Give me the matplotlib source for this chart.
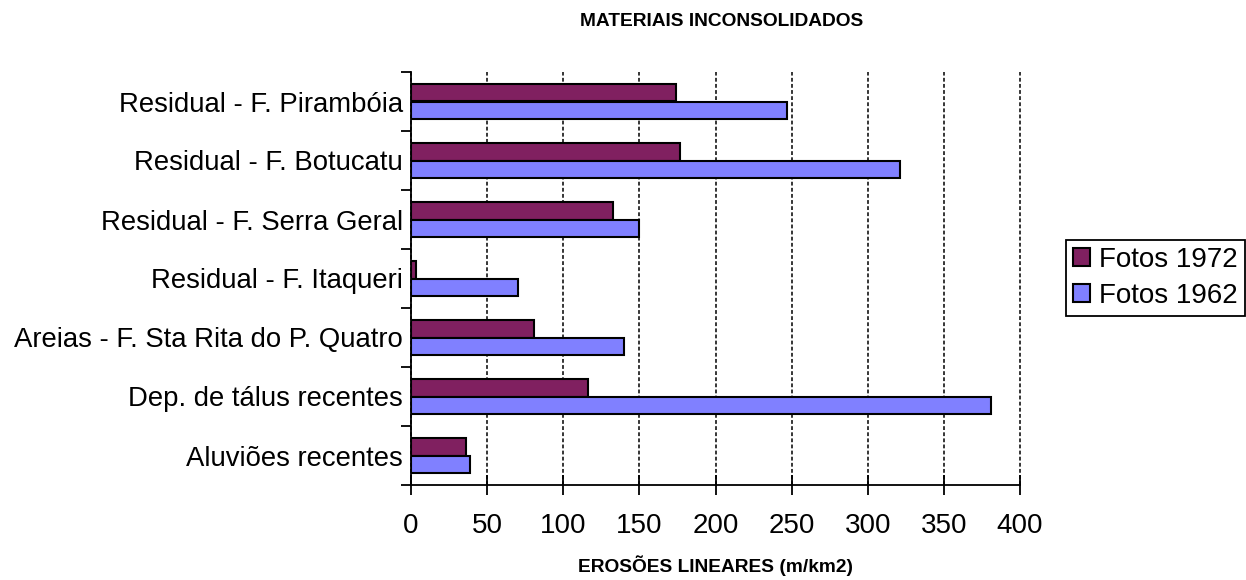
import matplotlib.pyplot as plt
import numpy as np

plt.rcParams['font.family'] = ['Liberation Sans', 'DejaVu Sans']

# erosion densities per unconsolidated material (m/km2)
categorias = ['Residual - F. Pirambóia',
              'Residual - F. Botucatu',
              'Residual - F. Serra Geral',
              'Residual - F. Itaqueri',
              'Areias - F. Sta Rita do P. Quatro',
              'Dep. de tálus recentes',
              'Aluviões recentes']
fotos_1972 = [174, 177, 133, 3, 81, 116, 36]
fotos_1962 = [247, 321, 150, 70, 140, 381, 39]
xticks = [0, 50, 100, 150, 200, 250, 300, 350, 400]

cor_1972 = '#802060'
cor_1962 = '#8080FF'

fig = plt.figure(figsize=(12.46, 5.8), dpi=100)
ax = fig.add_axes([411/1246, 1 - 485/580, 609/1246, 413/580])

y = np.arange(len(categorias))
h = 0.29
ax.barh(y - h/2, fotos_1972, height=h, color=cor_1972, edgecolor='black',
        linewidth=1.5, label='Fotos 1972', zorder=3)
ax.barh(y + h/2, fotos_1962, height=h, color=cor_1962, edgecolor='black',
        linewidth=1.5, label='Fotos 1962', zorder=3)

ax.set_xlim(0, 400)
ax.set_ylim(len(categorias) - 0.5, -0.5)

ax.set_xticks(xticks)
ax.set_xticklabels([str(v) for v in xticks], fontsize=20)
ax.tick_params(axis='x', direction='inout', length=14, width=1.3, pad=13)

ax.set_yticks(y)
ax.set_yticklabels(categorias, fontsize=19.8)
ax.set_yticks(np.arange(len(categorias) + 1) - 0.5, minor=True)
ax.tick_params(axis='y', which='major', length=0, pad=6)
ax.tick_params(axis='y', which='minor', direction='out', length=7, width=1.3)

ax.xaxis.grid(True, color='black', linestyle=(0, (2.5, 1.5)), linewidth=1.1, zorder=0)
ax.set_axisbelow(True)
for gl in ax.xaxis.get_gridlines():
    gl.set_clip_on(False)

for s in ['top', 'right']:
    ax.spines[s].set_visible(False)
for s in ['left', 'bottom']:
    ax.spines[s].set_linewidth(1.3)

ax.set_xlabel('EROSÕES LINEARES (m/km2)', fontsize=13.8, fontweight='bold', labelpad=12)
fig.text(722/1246, 1 - 21/580, 'MATERIAIS INCONSOLIDADOS', fontsize=13.8,
         fontweight='bold', ha='center', va='center')

leg = ax.legend(loc='upper left', bbox_to_anchor=(1066/1246, 1 - 240/580),
                bbox_transform=fig.transFigure, borderaxespad=0, fontsize=20,
                fancybox=False, edgecolor='black', framealpha=1,
                handlelength=0.6, handleheight=0.6, handletextpad=0.35,
                borderpad=0.25, labelspacing=0.35)
leg.get_frame().set_linewidth(1.3)

fig.savefig('out.png', dpi=100)
